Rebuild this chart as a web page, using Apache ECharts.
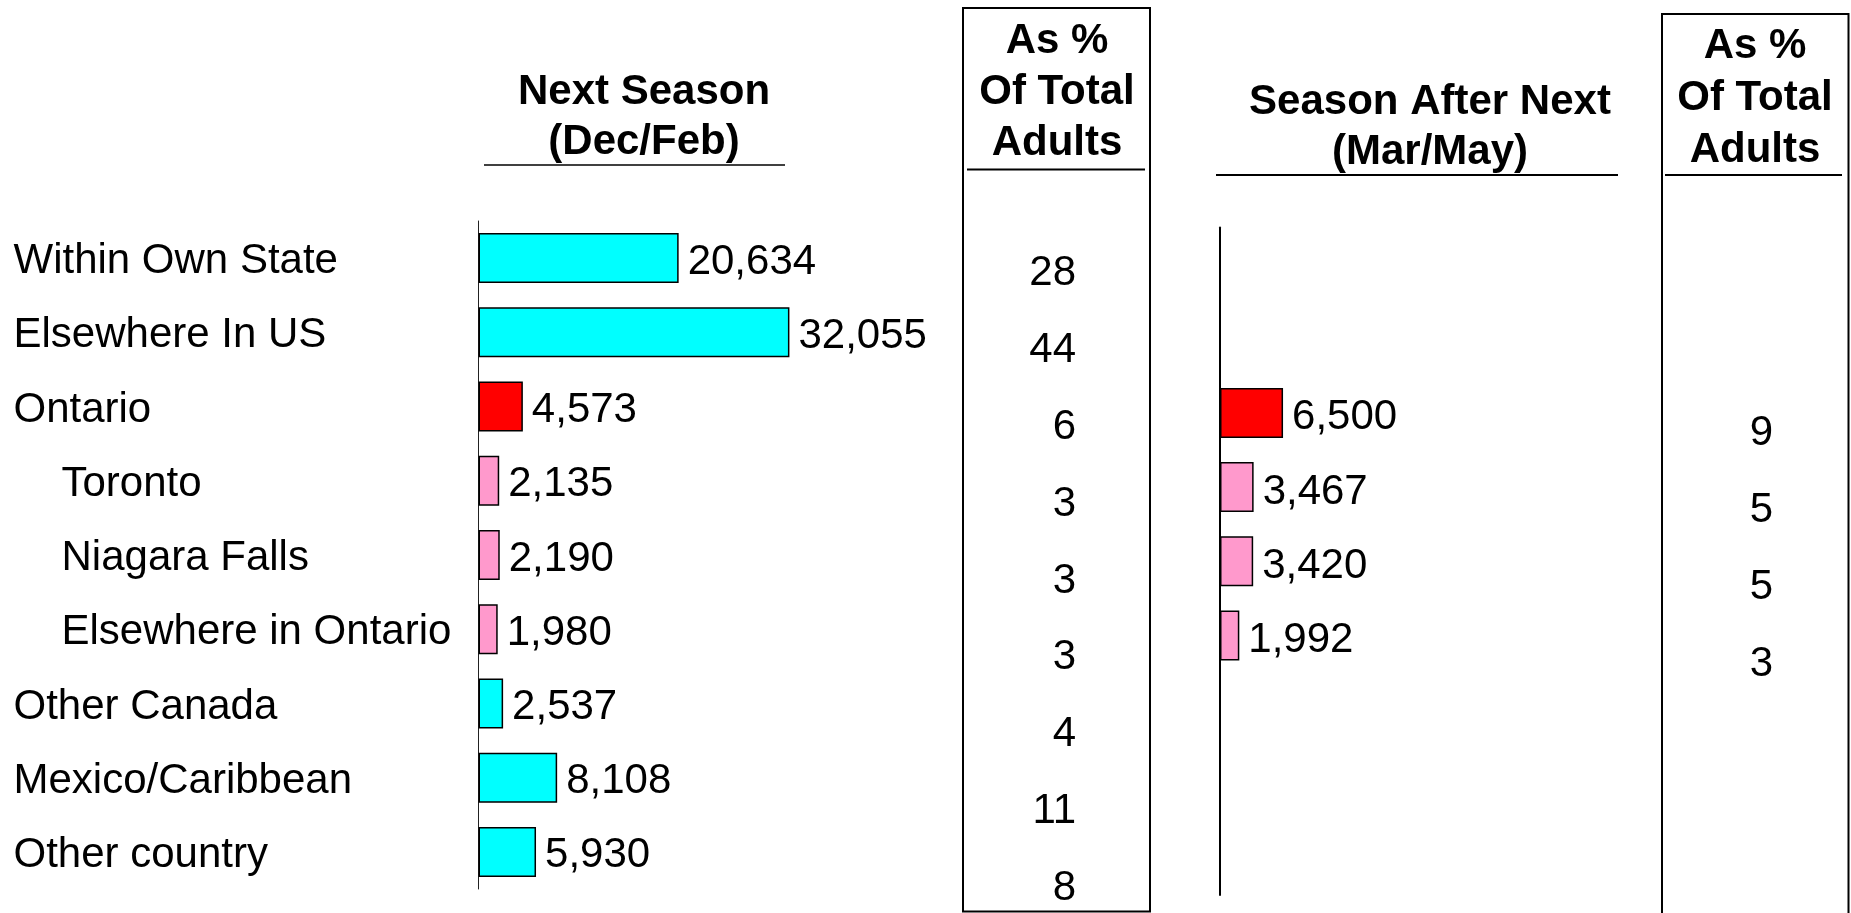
<!DOCTYPE html>
<html>
<head>
<meta charset="utf-8">
<script src="https://cdn.jsdelivr.net/npm/echarts@6/dist/echarts.min.js"></script>
<style>
html,body{margin:0;padding:0;background:#fff;}
#chart{width:1851px;height:913px;}
</style>
</head>
<body>
<div id="chart"></div>
<script>
// ---- data ----
var categories = ['Within Own State','Elsewhere In US','Ontario','Toronto','Niagara Falls','Elsewhere in Ontario','Other Canada','Mexico/Caribbean','Other country'];
var rowType = ['main','main','province','city','city','city','main','main','main'];
var nextSeason = [20634, 32055, 4573, 2135, 2190, 1980, 2537, 8108, 5930];
var nextSeasonPct = ['28','44','6','3','3','3','4','11','8'];
var afterNext = [null, null, 6500, 3467, 3420, 1992, null, null, null];
var afterNextPct = ['', '', '9', '5', '5', '3', '', '', ''];
var titleNext = ['Next Season', '(Dec/Feb)'];
var titleAfter = ['Season After Next', '(Mar/May)'];
var pctHeader = ['As %', 'Of Total', 'Adults'];

// ---- styles ----
var FONT = '"Liberation Sans", Arial, Helvetica, sans-serif';
var typeColor = { main: '#00FFFF', province: '#FF0000', city: '#FF99CC' };
function fmt(v){ return String(v).replace(/\B(?=(\d{3})+(?!\d))/g, ','); }

function barData(vals){
  return vals.map(function(v, i){
    if (v === null) return '-';
    return { value: v, itemStyle: { color: typeColor[rowType[i]] } };
  });
}

var chart = echarts.init(document.getElementById('chart'), null, {renderer:'canvas'});

var pctRich = { p: { fontFamily: FONT, fontSize: 42, color: '#000', padding: [9,0,0,0] } };
var option = {
  animation: false,
  backgroundColor: '#fff',
  grid: [
    { left: 478.5, top: 221, height: 668, width: 388, outerBoundsMode: 'none', containLabel: false },
    { left: 1220, top: 227.5, height: 667.5, width: 388, outerBoundsMode: 'none', containLabel: false },
    { left: 1076, top: 230.5, height: 692, width: 10, outerBoundsMode: 'none', containLabel: false },
    { left: 1773, top: 236.5, height: 693, width: 10, outerBoundsMode: 'none', containLabel: false }
  ],
  xAxis: [
    { gridIndex: 0, type: 'value', min: 0, max: 40000, show: false },
    { gridIndex: 1, type: 'value', min: 0, max: 40000, show: false },
    { gridIndex: 2, type: 'value', min: 0, max: 1, show: false },
    { gridIndex: 3, type: 'value', min: 0, max: 1, show: false }
  ],
  yAxis: [
    { gridIndex: 0, type: 'category', data: categories, inverse: true,
      axisLine: { show: true, lineStyle: { color: '#222', width: 1 } },
      axisTick: { show: false },
      axisLabel: {
        margin: 465, align: 'left',
        formatter: function(v, i){ return rowType[i] === 'city' ? '{s|' + v + '}' : '{m|' + v + '}'; },
        rich: {
          m: { fontFamily: FONT, fontSize: 42, color: '#000', padding: [7,0,0,0] },
          s: { fontFamily: FONT, fontSize: 42, color: '#000', padding: [7,0,0,48] }
        }
      }
    },
    { gridIndex: 1, type: 'category', data: categories, inverse: true,
      axisLine: { show: true, lineStyle: { color: '#000', width: 2 } },
      axisTick: { show: false }, axisLabel: { show: false }
    },
    { gridIndex: 2, type: 'category', data: categories, inverse: true,
      axisLine: { show: false }, axisTick: { show: false },
      axisLabel: { margin: 0, rich: pctRich,
        formatter: function(v, i){ return '{p|' + nextSeasonPct[i] + '}'; } }
    },
    { gridIndex: 3, type: 'category', data: categories, inverse: true,
      axisLine: { show: false }, axisTick: { show: false },
      axisLabel: { margin: 0, rich: pctRich,
        formatter: function(v, i){ return afterNextPct[i] ? '{p|' + afterNextPct[i] + '}' : ''; } }
    }
  ],
  series: [
    { type: 'bar', xAxisIndex: 0, yAxisIndex: 0, data: barData(nextSeason), barWidth: 50,
      itemStyle: { borderColor: '#000', borderWidth: 1.5 },
      label: { show: true, position: 'right', distance: 9, offset: [0, 4], fontFamily: FONT, fontSize: 42, color: '#000',
        formatter: function(p){ return fmt(p.value); } }
    },
    { type: 'bar', xAxisIndex: 1, yAxisIndex: 1, data: barData(afterNext), barWidth: 50,
      itemStyle: { borderColor: '#000', borderWidth: 1.5 },
      label: { show: true, position: 'right', distance: 9, offset: [0, 5], fontFamily: FONT, fontSize: 42, color: '#000',
        formatter: function(p){ return fmt(p.value); } }
    }
  ],
  graphic: [
    { type: 'text', x: 644, y: 67.4, style: { text: titleNext.join('\n'), fontFamily: FONT, fontSize: 42, fontWeight: 'bold', fill: '#000', textAlign: 'center', textVerticalAlign: 'top', lineHeight: 50 } },
    { type: 'text', x: 1057, y: 15.9, style: { text: pctHeader.join('\n'), fontFamily: FONT, fontSize: 42, fontWeight: 'bold', fill: '#000', textAlign: 'center', textVerticalAlign: 'top', lineHeight: 51 } },
    { type: 'text', x: 1430, y: 77, style: { text: titleAfter.join('\n'), fontFamily: FONT, fontSize: 42, fontWeight: 'bold', fill: '#000', textAlign: 'center', textVerticalAlign: 'top', lineHeight: 50 } },
    { type: 'text', x: 1755, y: 20.4, style: { text: pctHeader.join('\n'), fontFamily: FONT, fontSize: 42, fontWeight: 'bold', fill: '#000', textAlign: 'center', textVerticalAlign: 'top', lineHeight: 52 } },
    { type: 'line', shape: { x1: 484, y1: 165, x2: 785, y2: 165 }, style: { stroke: '#000', lineWidth: 1.5 } },
    { type: 'line', shape: { x1: 967, y1: 169.5, x2: 1145, y2: 169.5 }, style: { stroke: '#000', lineWidth: 2 } },
    { type: 'line', shape: { x1: 1216, y1: 175, x2: 1618, y2: 175 }, style: { stroke: '#000', lineWidth: 2 } },
    { type: 'line', shape: { x1: 1665, y1: 175, x2: 1842, y2: 175 }, style: { stroke: '#000', lineWidth: 2 } },
    { type: 'rect', shape: { x: 963, y: 8, width: 187, height: 903.5 }, style: { fill: 'none', stroke: '#000', lineWidth: 2 } },
    { type: 'rect', shape: { x: 1662, y: 14, width: 186.5, height: 950 }, style: { fill: 'none', stroke: '#000', lineWidth: 2 } }
  ]
};
chart.setOption(option);
</script>
</body>
</html>
